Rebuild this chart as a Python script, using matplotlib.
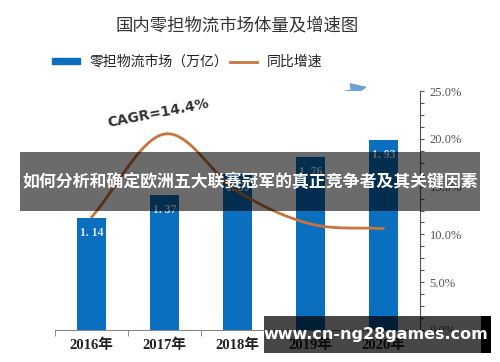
import numpy as np
import matplotlib
matplotlib.use("Agg")
import matplotlib.pyplot as plt
from matplotlib.patches import Rectangle, FancyArrowPatch
from matplotlib.lines import Line2D

years = ["2016年", "2017年", "2018年", "2019年", "2020年"]
market = [1.14, 1.37, 1.59, 1.76, 1.93]
market_labels = ["1. 14", "1. 37", "1. 59", "1. 76", "1. 93"]
growth = [0.118, 0.205, 0.145, 0.111, 0.106]
pct_ticks = [0.0, 0.05, 0.10, 0.15, 0.20, 0.25]
pct_labels = ["0.0%", "5.0%", "10.0%", "15.0%", "20.0%", "25.0%"]
title = "国内零担物流市场体量及增速图"
bar_name = "零担物流市场（万亿）"
line_name = "同比增速"
cagr = "CAGR=14.4%"
banner = "如何分析和确定欧洲五大联赛冠军的真正竞争者及其关键因素"
watermark = "www.cn-ng28games.com"

CJK = ["Noto Sans CJK SC", "DejaVu Sans"]
SERIF = ["Liberation Serif", "Noto Sans CJK SC"]
plt.rcParams["font.family"] = CJK

BLUE = "#0b6fc0"
ORANGE = "#c8733a"

fig = plt.figure(figsize=(5, 3.62), dpi=100)
fig.patch.set_facecolor("white")
W, H = 500, 362
ax = fig.add_axes([55 / W, 1 - 330 / H, 365 / W, 239 / H])
ax2 = ax.twinx()

x = np.arange(len(years))
bars = ax.bar(x, market, width=0.4, color=BLUE, zorder=2)
ax.set_xlim(-0.5, 4.5)
ax.set_ylim(0, 2.43)
for xi, v, lab in zip(x, market, market_labels):
    ax.text(xi, v - 0.15, lab, ha="center", va="center", color="#dde9f6",
            fontsize=8.5, family=SERIF, fontweight="bold", zorder=3)

# smooth growth line (Catmull-Rom through the data points)
px = np.array(x, dtype=float)
py = np.array(growth)
P = np.column_stack([px, py])
Pp = np.vstack([P[0] - (P[1] - P[0]), P, P[-1] + (P[-1] - P[-2])])
xs, ys = [], []
for i in range(1, len(Pp) - 2):
    p0, p1, p2, p3 = Pp[i - 1], Pp[i], Pp[i + 1], Pp[i + 2]
    t = np.linspace(0, 1, 30)[:, None]
    c = 0.5 * ((2 * p1) + (-p0 + p2) * t + (2 * p0 - 5 * p1 + 4 * p2 - p3) * t ** 2
               + (-p0 + 3 * p1 - 3 * p2 + p3) * t ** 3)
    xs.extend(c[:, 0]); ys.extend(c[:, 1])
ax2.plot(xs, ys, color=ORANGE, lw=2, zorder=4, solid_capstyle="round")
ax2.set_ylim(0, 0.25)
ax2.set_yticks(pct_ticks)
ax2.set_yticklabels(pct_labels, family=SERIF, fontsize=9, color="#555555")
ax2.set_yticks(np.arange(0, 0.2501, 0.0125), minor=True)
ax2.tick_params(axis="y", which="both", direction="out", length=3, color="#555555", width=0.8, pad=4)

ax.set_yticks([])
ax.set_xticks(x)
ax.set_xticklabels(years, family=SERIF, fontsize=10.5, fontweight="bold", color="#222222")
ax.set_xticks(np.arange(-0.5, 4.6, 1), minor=True)
ax.tick_params(axis="x", which="major", length=0, pad=6)
ax.tick_params(axis="x", which="minor", length=4, color="#777777", direction="out")
for a in (ax, ax2):
    for s in ["top", "left"]:
        a.spines[s].set_visible(False)
    a.spines["bottom"].set_color("#888888")
    a.spines["right"].set_color("#555555")
ax.spines["right"].set_visible(False)
ax2.spines["bottom"].set_visible(False)
ax.set_zorder(1); ax2.set_zorder(2); ax2.patch.set_visible(False)

# title
fig.text(237 / W, 1 - 25 / H, title, ha="center", va="center", fontsize=12.5, color="#333333")

# legend
leg = fig.legend([Rectangle((0, 0), 1, 1, color=BLUE), Line2D([], [], color=ORANGE, lw=2)],
                 [bar_name, line_name], ncol=2, loc="center left",
                 bbox_to_anchor=(52 / W, 1 - 62 / H), frameon=False, fontsize=10,
                 handlelength=2.0, handleheight=0.35, columnspacing=0.1, handletextpad=0.7,
                 borderaxespad=0, borderpad=0)
for t in leg.get_texts():
    t.set_color("#222222")

# CAGR arrow
fig.add_artist(FancyArrowPatch(
    (68 / W, 1 - 146 / H), (367 / W, 1 - 87 / H), transform=fig.transFigure,
    arrowstyle="-|>,head_length=10,head_width=4.5", color="#6f9fd2", lw=1.1,
    shrinkA=0, shrinkB=0, mutation_scale=1))
fig.text(158 / W, 1 - 113 / H, cagr, ha="center", va="center", rotation=11,
         fontsize=10, fontweight="bold", color="#333333", family=["DejaVu Sans"])

# banner overlay
fig.add_artist(Rectangle((20 / W, 1 - 211 / H), 460 / W, 59 / H, transform=fig.transFigure,
                         facecolor="black", alpha=0.58, edgecolor="none", zorder=10))
fig.text(250 / W, 1 - 182 / H, banner, ha="center", va="center", fontsize=12.2,
         fontweight="bold", color="white", zorder=11)

# watermark
fig.add_artist(Rectangle((264 / W, 1 - 353 / H), 217 / W, 37 / H, transform=fig.transFigure,
                         facecolor="black", alpha=0.72, edgecolor="none", zorder=10))
fig.add_artist(Rectangle((481 / W, 1 - 353 / H), 10 / W, 37 / H, transform=fig.transFigure,
                         facecolor="black", edgecolor="none", zorder=10))
fig.text(376 / W, 1 - 335 / H, watermark, ha="center", va="center", fontsize=11.5,
         fontweight="bold", color="white", family=["DejaVu Sans"], zorder=11)

fig.savefig("out.png", dpi=100)
